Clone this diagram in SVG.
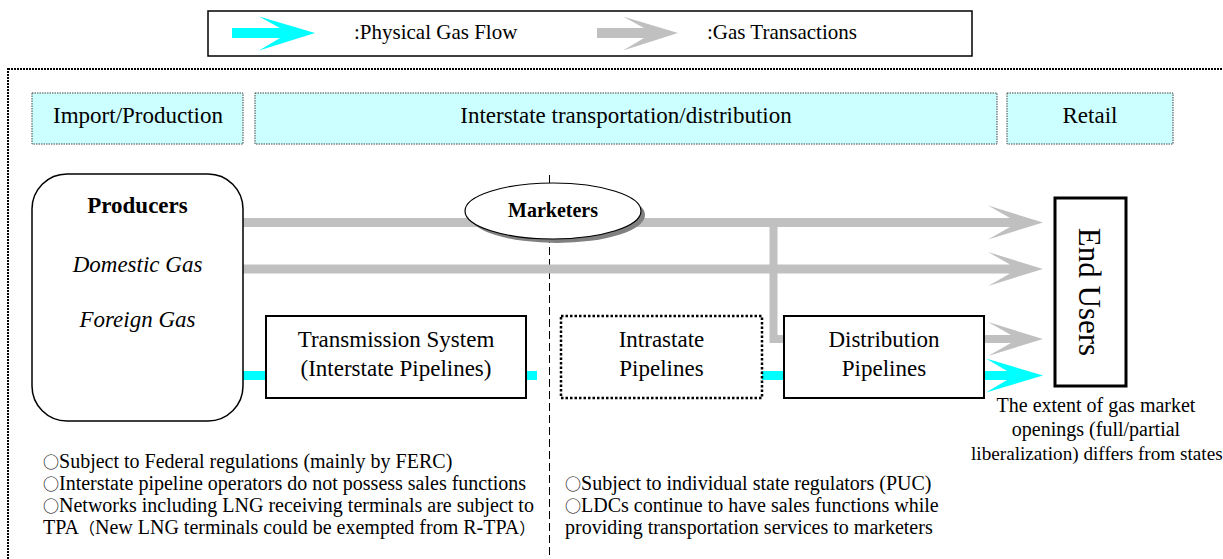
<svg xmlns="http://www.w3.org/2000/svg" width="1223" height="559" viewBox="0 0 1223 559">
<style>
text{font-family:"Liberation Serif","Times New Roman","Noto Sans CJK JP",serif;fill:#000}
.lg{font-size:21px}
.hd{font-size:23px;text-anchor:middle}
.nd{font-size:23px;text-anchor:middle}
.nt{font-size:20px}
.o{font-family:"Noto Sans CJK JP",sans-serif;font-size:16px}
.p{font-family:"Noto Sans CJK JP",sans-serif;font-size:16px}
.hbox{fill:#CCFFFF;stroke:#444;stroke-width:1;stroke-dasharray:1.5 1}
.gray{fill:#C0C0C0}
.cyan{fill:#00FFFF}
.box{fill:#fff;stroke:#000;stroke-width:2}
</style>
<rect x="8" y="69" width="1228" height="520" fill="none" stroke="#000" stroke-width="2" stroke-dasharray="2 1"/>
<g id="legend">
<rect x="208" y="11" width="764" height="45" fill="#fff" stroke="#000" stroke-width="1.5"/>
<path class="cyan" d="M232,28 H280 L259,16.5 L315,33 L259,50.5 L280,38 H232 Z"/>
<text class="lg" x="354" y="39">:Physical Gas Flow</text>
<path class="gray" d="M597,28 H644 L623,16.5 L678,33 L623,50.5 L644,38 H597 Z"/>
<text class="lg" x="707" y="39">:Gas Transactions</text>
</g>
<g id="headers">
<g id="hdr-import"><rect class="hbox" x="32" y="93" width="211" height="51"/><text class="hd" x="138" y="123">Import/Production</text></g>
<g id="hdr-interstate"><rect class="hbox" x="255" y="93" width="742" height="51"/><text class="hd" x="626" y="123">Interstate transportation/distribution</text></g>
<g id="hdr-retail"><rect class="hbox" x="1007" y="93" width="166" height="51"/><text class="hd" x="1090" y="123">Retail</text></g>
</g>
<line x1="549.5" y1="175" x2="549.5" y2="559" stroke="#000" stroke-width="1" stroke-dasharray="8 4"/>
<g id="connectors">
<path class="gray" d="M243,218 H1010 L988,205.5 L1043,222.5 L988,239.5 L1010,227 H243 Z"/>
<path class="gray" d="M243,264.5 H1010 L988,252 L1043,269 L988,286 L1010,273.5 H243 Z"/>
<path class="gray" d="M769.5,222 H777.5 V335 H1011 L988,322 L1043,339 L988,356 L1011,343 H769.5 Z"/>
<rect class="cyan" x="243" y="371" width="23" height="9"/>
<rect class="cyan" x="526" y="371" width="11" height="9"/>
<rect class="cyan" x="762" y="371" width="22" height="9"/>
<path class="cyan" d="M984,371 H1007 L986,358.5 L1043,375.5 L986,392.5 L1007,380 H984 Z"/>
</g>
<g id="producers">
<rect x="32" y="174" width="211" height="247" rx="35" ry="35" fill="#fff" stroke="#000" stroke-width="1.5"/>
<text class="nd" x="137.5" y="213" font-weight="bold">Producers</text>
<text class="nd" x="137.5" y="272" font-style="italic">Domestic Gas</text>
<text class="nd" x="137.5" y="327" font-style="italic">Foreign Gas</text>
</g>
<g id="marketers">
<ellipse cx="557" cy="215" rx="88" ry="28" fill="#808080"/>
<ellipse cx="553" cy="211" rx="88" ry="28" fill="#fff" stroke="#000" stroke-width="1.2"/>
<text x="553" y="217" font-size="20" font-weight="bold" text-anchor="middle">Marketers</text>
</g>
<g id="transmission">
<rect class="box" x="266" y="316" width="260" height="82"/>
<text class="nd" x="396" y="347">Transmission System</text>
<text class="nd" x="396" y="376">(Interstate Pipelines)</text>
</g>
<g id="intrastate">
<rect x="561" y="316" width="201" height="82" fill="#fff" stroke="#000" stroke-width="2.5" stroke-dasharray="2.5 2"/>
<text class="nd" x="661.5" y="347">Intrastate</text>
<text class="nd" x="661.5" y="376">Pipelines</text>
</g>
<g id="distribution">
<rect class="box" x="784" y="316" width="200" height="82"/>
<text class="nd" x="884" y="347">Distribution</text>
<text class="nd" x="884" y="376">Pipelines</text>
</g>
<g id="endusers">
<rect x="1055" y="198" width="71" height="188" fill="#fff" stroke="#000" stroke-width="3"/>
<text x="1079" y="292" font-size="31" text-anchor="middle" transform="rotate(90 1079 292)">End Users</text>
</g>
<g id="notes">
<text class="nt" x="1096" y="412" text-anchor="middle">The extent of gas market</text>
<text class="nt" x="1096" y="436" text-anchor="middle">openings (full/partial</text>
<text x="971" y="460" font-size="19.2">liberalization) differs from states</text>
<text class="nt" x="43" y="468"><tspan class="o">○</tspan>Subject to Federal regulations (mainly by FERC)</text>
<text class="nt" x="43" y="490"><tspan class="o">○</tspan>Interstate pipeline operators do not possess sales functions</text>
<text class="nt" x="43" y="512"><tspan class="o">○</tspan>Networks including LNG receiving terminals are subject to</text>
<text class="nt" x="43" y="534">TPA<tspan class="p">（</tspan>New LNG terminals could be exempted from R-TPA<tspan class="p">）</tspan></text>
<text class="nt" x="565" y="490"><tspan class="o">○</tspan>Subject to individual state regulators (PUC)</text>
<text class="nt" x="565" y="512"><tspan class="o">○</tspan>LDCs continue to have sales functions while</text>
<text class="nt" x="565" y="534">providing transportation services to marketers</text>
</g>
</svg>
